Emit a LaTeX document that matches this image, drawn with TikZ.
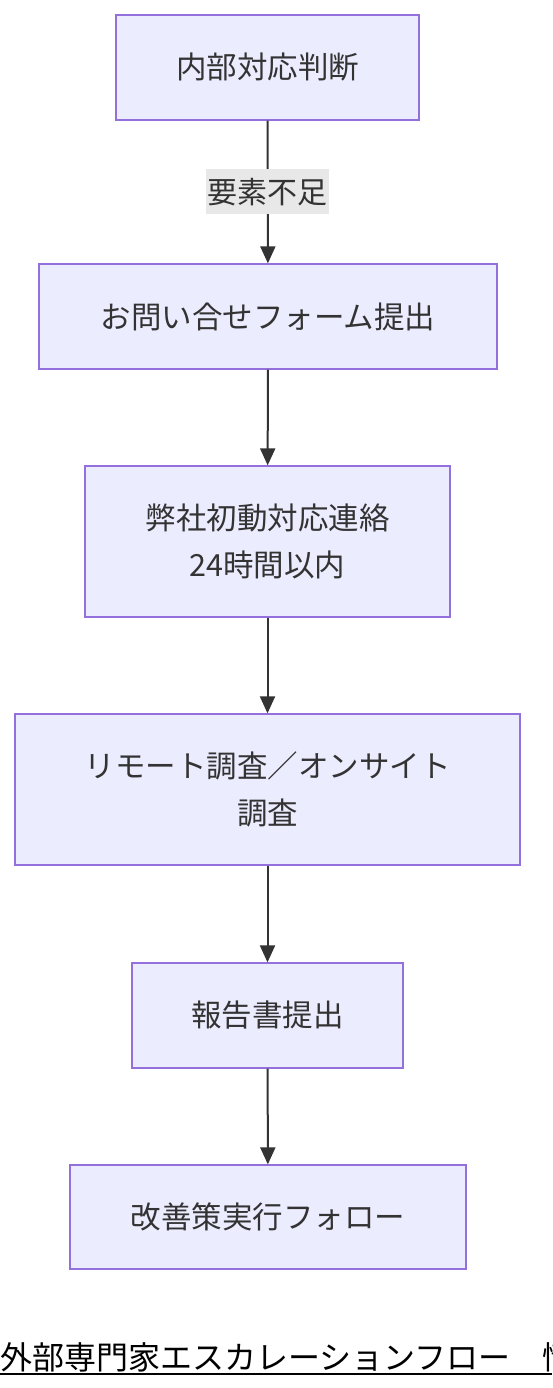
\documentclass[tikz,border=0pt]{standalone}
\usepackage{fontspec}
\setmainfont{Noto Sans CJK JP}
\usetikzlibrary{arrows.meta}
\definecolor{boxfill}{HTML}{ECECFF}
\definecolor{boxline}{HTML}{9370DB}
\definecolor{inktext}{HTML}{333333}
\definecolor{labelfill}{HTML}{E8E8E8}
\tikzset{
    flowbox/.style={draw=boxline, fill=boxfill, line width=1.3pt, text=inktext,
        align=center, font=\fontsize{30.5pt}{47pt}\selectfont, inner sep=0pt},
    flowarrow/.style={draw=inktext, line width=2pt,
        -{Triangle[length=17pt, width=15pt]}},
    edgelabel/.style={fill=labelfill, text=inktext, inner xsep=1.5pt, inner ysep=0pt,
        minimum height=45pt, font=\fontsize{30pt}{34pt}\selectfont}
}

\begin{document}
\begin{tikzpicture}[x=1pt, y=-1pt]
    \useasboundingbox (0,0) rectangle (552,1388);
    \clip (0,0) rectangle (552,1388);

    % steps of the flow
    \node[flowbox, minimum width=303pt, minimum height=105pt] (judge) at (267.5,67.5) {内部対応判断};
    \node[flowbox, minimum width=458pt, minimum height=105pt] (form) at (268,316.5) {お問い合せフォーム提出};
    \node[flowbox, minimum width=365pt, minimum height=151pt] (contact) at (267.5,541.5) {弊社初動対応連絡\\24時間以内};
    \node[flowbox, minimum width=505pt, minimum height=151pt] (survey) at (267.5,789.5) {リモート調査／オンサイト\\調査};
    \node[flowbox, minimum width=271pt, minimum height=105pt] (report) at (267.5,1015.5) {報告書提出};
    \node[flowbox, minimum width=396pt, minimum height=104pt] (follow) at (268,1217) {改善策実行フォロー};

    % connectors
    \draw[flowarrow] (judge) -- node[edgelabel] (lack) {要素不足} (form);
    \draw[flowarrow] (form) -- (contact);
    \draw[flowarrow] (contact) -- (survey);
    \draw[flowarrow] (survey) -- (report);
    \draw[flowarrow] (report) -- (follow);

    % title below
    \node[anchor=base west, inner sep=0pt, text=black,
        font=\fontsize{32pt}{36pt}\selectfont] (title) at (0,1369) {外部専門家エスカレーションフロー　情};
    \draw[black, line width=2pt] (title.base west |- 0,1374) -- (552,1374);
\end{tikzpicture}
\end{document}
